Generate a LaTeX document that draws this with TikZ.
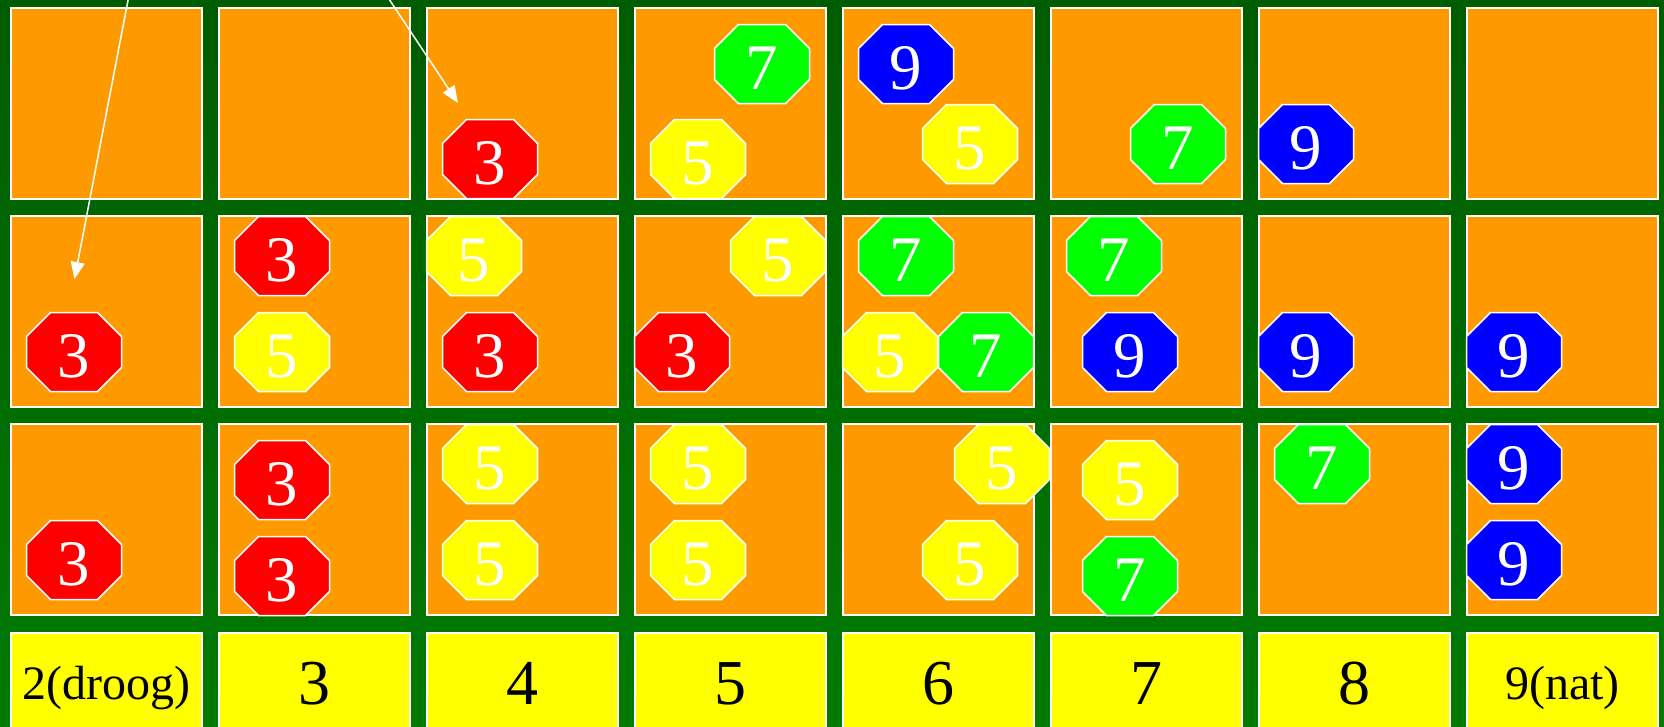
\documentclass[tikz,border=0pt]{standalone}
\usepackage{fontspec}
\setmainfont{Liberation Serif}
\usepackage{xcolor}
\usepackage{tikz}
\usetikzlibrary{arrows.meta,positioning}

\definecolor{veldoranje}{RGB}{255,153,0}
\definecolor{bordgroen}{RGB}{0,92,0}
\definecolor{bordgroenlicht}{RGB}{0,122,0}
\definecolor{geel}{RGB}{255,255,0}
\definecolor{rood}{RGB}{255,0,0}
\definecolor{groen}{RGB}{0,255,0}
\definecolor{blauw}{RGB}{0,0,255}

\begin{document}
\begin{tikzpicture}[
    x=1pt, y=-1pt,
    vak/.style={draw=white, line width=2pt, fill=veldoranje, minimum width=191pt, minimum height=191pt, inner sep=0pt},
    schaal/.style={draw=white, line width=1.5pt, fill=geel, minimum width=191pt, minimum height=100pt, inner sep=0pt, text height=43pt, text depth=0pt, font=\fontsize{64}{64}\selectfont},
    steen/.style={rectangle, minimum width=97pt, minimum height=81pt, inner sep=0pt, text=white, text height=50pt, text depth=0pt, font=\fontsize{65}{65}\selectfont,
        path picture={
            \filldraw[fill=#1, draw=white, line width=1.5pt]
                ([shift={(25pt,-1pt)}]path picture bounding box.north west) -- ([shift={(-25pt,-1pt)}]path picture bounding box.north east)
                -- ([shift={(-1pt,-25pt)}]path picture bounding box.north east) -- ([shift={(-1pt,25pt)}]path picture bounding box.south east)
                -- ([shift={(-25pt,1pt)}]path picture bounding box.south east) -- ([shift={(25pt,1pt)}]path picture bounding box.south west)
                -- ([shift={(1pt,25pt)}]path picture bounding box.south west) -- ([shift={(1pt,-25pt)}]path picture bounding box.north west) -- cycle;
        }},
    pijl/.style={draw=white, line width=1.5pt, -{Triangle[length=17pt,width=14pt]}}
]
    \useasboundingbox (0,0) rectangle (1664,726);
    % Achtergrond
    \shade[top color=bordgroen, bottom color=bordgroenlicht] (0,0) rectangle (1664,726);

    % Vakken: 3 rijen, 8 kolommen
    \foreach \k in {1,...,8} {
        \foreach \r in {1,2,3} {
            \node[vak] (v\r\k) at ({106.5+208*(\k-1)}, {103.5+208*(\r-1)}) {};
        }
    }

    % Schaal onderaan
    \node[schaal, below=16pt of v31, font=\fontsize{48}{48}\selectfont, text height=33pt] (s1) {2(droog)};
    \node[schaal, below=16pt of v32] (s2) {3};
    \node[schaal, below=16pt of v33] (s3) {4};
    \node[schaal, below=16pt of v34] (s4) {5};
    \node[schaal, below=16pt of v35] (s5) {6};
    \node[schaal, below=16pt of v36] (s6) {7};
    \node[schaal, below=16pt of v37] (s7) {8};
    \node[schaal, below=16pt of v38, font=\fontsize{48}{48}\selectfont, text height=33pt] (s8) {9(nat)};

    % Rij 1
    \node[steen=rood] (r1k3a) at (490,159) {3};
    \node[steen=groen] (r1k4a) at (762,64) {7};
    \node[steen=geel] (r1k4b) at (698,159) {5};
    \node[steen=blauw] (r1k5a) at (906,64) {9};
    \node[steen=geel] (r1k5b) at (970,144) {5};
    \node[steen=groen] (r1k6a) at (1178,144) {7};
    \node[steen=blauw] (r1k7a) at (1306,144) {9};

    % Rij 2
    \node[steen=rood] (r2k1a) at (74,352) {3};
    \node[steen=rood] (r2k2a) at (282,256) {3};
    \node[steen=geel] (r2k2b) at (282,352) {5};
    \node[steen=geel] (r2k3a) at (474,256) {5};
    \node[steen=rood] (r2k3b) at (490,352) {3};
    \node[steen=geel] (r2k4a) at (778,256) {5};
    \node[steen=rood] (r2k4b) at (682,352) {3};
    \node[steen=groen] (r2k5a) at (906,256) {7};
    \node[steen=geel] (r2k5b) at (890,352) {5};
    \node[steen=groen] (r2k5c) at (986,352) {7};
    \node[steen=groen] (r2k6a) at (1114,256) {7};
    \node[steen=blauw] (r2k6b) at (1130,352) {9};
    \node[steen=blauw] (r2k7a) at (1306,352) {9};
    \node[steen=blauw] (r2k8a) at (1514,352) {9};

    % Rij 3
    \node[steen=rood] (r3k1a) at (74,560) {3};
    \node[steen=rood] (r3k2a) at (282,480) {3};
    \node[steen=rood] (r3k2b) at (282,576) {3};
    \node[steen=geel] (r3k3a) at (490,464) {5};
    \node[steen=geel] (r3k3b) at (490,560) {5};
    \node[steen=geel] (r3k4a) at (698,464) {5};
    \node[steen=geel] (r3k4b) at (698,560) {5};
    \node[steen=geel] (r3k5a) at (1002,464) {5};
    \node[steen=geel] (r3k5b) at (970,560) {5};
    \node[steen=geel] (r3k6a) at (1130,480) {5};
    \node[steen=groen] (r3k6b) at (1130,576) {7};
    \node[steen=groen] (r3k7a) at (1322,464) {7};
    \node[steen=blauw] (r3k8a) at (1514,464) {9};
    \node[steen=blauw] (r3k8b) at (1514,560) {9};

    % Pijlen van boven
    \coordinate (p1) at (130,-10);
    \coordinate (d1) at (74.5,279);
    \coordinate (p2) at (383,-10);
    \coordinate (d2) at (458,103);
    \draw[pijl] (p1) -- (d1);
    \draw[pijl] (p2) -- (d2);

\end{tikzpicture}
\end{document}
